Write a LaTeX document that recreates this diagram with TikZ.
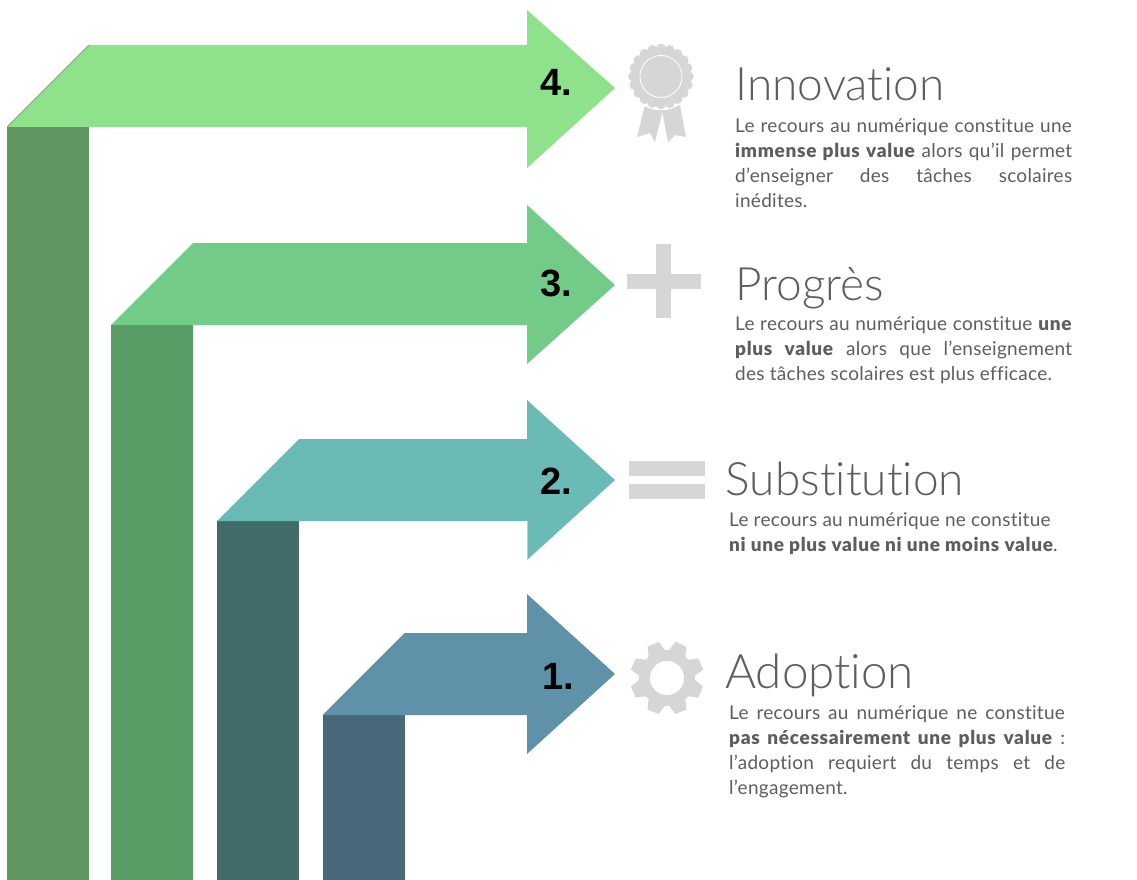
\documentclass[tikz,border=0pt]{standalone}
\usepackage{fontspec}
\setmainfont{Lato}[Ligatures={NoCommon},LetterSpace=1.5,BoldFont={Lato Black},BoldFeatures={LetterSpace=3.6}]
\newfontfamily\titlef{Lato Light}[Ligatures={NoCommon}]
\newfontfamily\numf{Liberation Sans}
\definecolor{txt}{HTML}{5E5E5E}
\definecolor{ico}{HTML}{D6D6D6}
\tikzset{
  x=1pt,y=-1pt,
  title/.style={anchor=base west,inner sep=0pt,text=txt,font=\titlef\fontsize{46}{46}\selectfont},
  bodyt/.style={anchor=base west,inner sep=0pt,text=txt,align=justify,font=\fontsize{19}{25.2}\selectfont},
  num/.style={anchor=base west,inner sep=0pt,text=black,font=\numf\bfseries\fontsize{38}{38}\selectfont},
  icon/.style={fill=ico,draw=none}
}
\newcommand{\arrowshape}[8]{% x, topy, head-top, mid-bottom, head-bottom, tip y, head colour, col colour
  \fill[#8] (#1,#4) rectangle (#1+82,880);
  \fill[#7] (#1,#4) -- (#1+82,#2) -- (527,#2) -- (527,#3) -- (615,#6) -- (527,#5) -- (527,#4) -- cycle;
}
\begin{document}
\begin{tikzpicture}
\useasboundingbox (0,0) rectangle (1137,880);
\fill[white] (0,0) rectangle (1137,880);
\definecolor{aa}{HTML}{8DE28B}\definecolor{ab}{HTML}{5F9661}
\definecolor{ba}{HTML}{72CC88}\definecolor{bb}{HTML}{589C66}
\definecolor{ca}{HTML}{6ABBB5}\definecolor{cb}{HTML}{416C6A}
\definecolor{da}{HTML}{5F92A8}\definecolor{db}{HTML}{466878}
\arrowshape{7}{45}{10}{127}{168}{88}{aa}{ab}
\arrowshape{111}{243}{205}{325}{364}{285}{ba}{bb}
\arrowshape{217}{439}{400}{521}{560}{480}{ca}{cb}
\arrowshape{322.5}{633}{594}{715}{754}{674}{da}{db}
\draw[ab!80!white,line width=0.8pt] (7,127) -- (89,45);
\draw[black!22,line width=0.8pt] (527,521) -- (527,560);
\node[num] (n4) at (540,96) {4.};
\node[num] (n3) at (540,296) {3.};
\node[num] (n2) at (540,494.5) {2.};
\node[num] (n1) at (542,689) {1.};
% rosette
\fill[icon] (645,105) -- (663,110) -- (655,142) -- (650,133) -- (637,137) -- cycle;
\fill[icon] (662,110) -- (680,105) -- (686,137) -- (675,135) -- (668,142) -- cycle;
\fill[white] (661,76.5) circle (33.8);
\foreach \a in {0,18,...,342} \fill[icon] (661,76.5)++(\a:28) circle (4.8);
\fill[icon] (661,76.5) circle (30);
\draw[white,line width=0.8pt] (661,76.5) circle (21);
% plus
\fill[icon] (627,274) rectangle (701,289);
\fill[icon] (656,244) rectangle (671,318);
% equals
\fill[icon] (629,461) rectangle (705,476);
\fill[icon] (629,484) rectangle (705,499);
% gear
\foreach \a in {0,45,...,315}
  \fill[icon,shift={(667,678)},rotate=\a+22.5] (-9.5,-24) -- (-6,-36.5) -- (6,-36.5) -- (9.5,-24) -- cycle;
\fill[icon] (667,678) circle (28);
\fill[white] (667,678) circle (17);
% text
\node[title] (t4) at (735.5,101) {Innovation};
\node[bodyt,text width=337pt] (b4) at (735,132) {Le recours au numérique constitue une\linebreak \textbf{immense plus value} alors qu’il permet\linebreak d’enseigner des tâches scolaires\linebreak inédites.};
\node[title] (t3) at (735.5,300.5) {Progrès};
\node[bodyt,text width=337pt] (b3) at (735,330) {Le recours au numérique constitue \textbf{une}\linebreak \textbf{plus value} alors que l’enseignement\linebreak des tâches scolaires est plus efficace.};
\node[title] (t2) at (725.5,495) {Substitution};
\node[bodyt,text width=335pt] (b2) at (729,526) {Le recours au numérique ne constitue\\ \textbf{ni une plus value ni une moins value}.};
\node[title,font=\titlef\fontsize{47.5}{47.5}\selectfont] (t1) at (725,688) {Adoption};
\node[bodyt,text width=336pt] (b1) at (729,719) {Le recours au numérique ne constitue\linebreak \textbf{pas nécessairement une plus value} :\linebreak l’adoption requiert du temps et de\linebreak l’engagement.};
\end{tikzpicture}
\end{document}
